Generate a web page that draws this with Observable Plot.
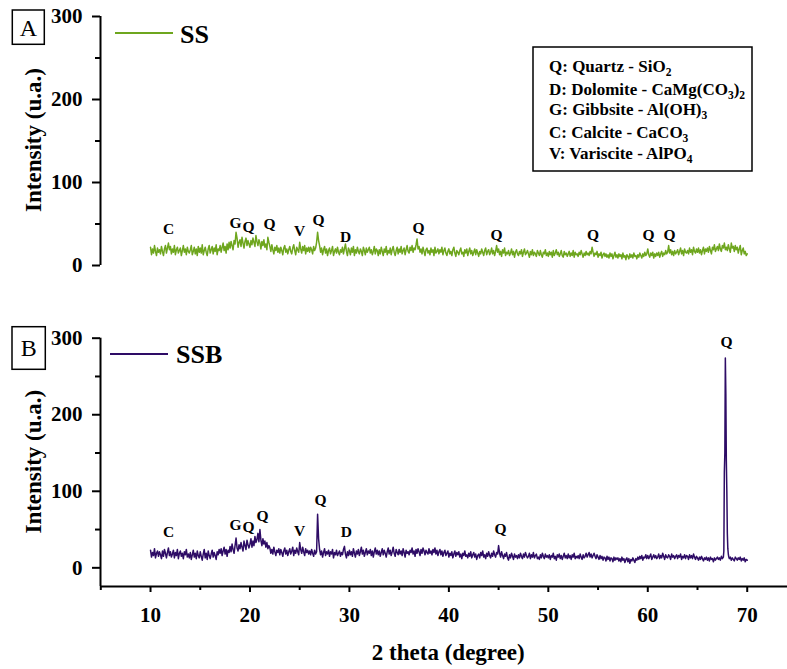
<!DOCTYPE html>
<html>
<head>
<meta charset="utf-8">
<script src="https://cdn.jsdelivr.net/npm/d3@7"></script>
<script src="https://cdn.jsdelivr.net/npm/@observablehq/plot@0.6"></script>
<style>
  html, body { margin: 0; padding: 0; background: #fff; }
  #chart { position: relative; width: 787px; height: 669px; overflow: hidden; }
  #chart svg { position: absolute; left: 0; }
</style>
</head>
<body>
<div id="chart"></div>
<script>
// XRD patterns, 2θ from 10° to 70° in 0.1° steps (one row per degree)
const thetaStart = 10;
const thetaStep = 0.1;

// Sample SS (panel A)
const ssIntensity = [
  22,13,20,15,24,17,12,21,16,19,
  14,23,17,12,20,24,15,21,27,19,
  23,14,20,16,24,13,19,22,15,18,
  21,12,18,24,16,20,13,22,17,15,
  19,24,13,17,22,14,20,12,23,16,
  21,15,25,13,18,22,16,12,20,24,
  15,19,23,14,21,17,25,13,20,18,
  24,16,22,27,18,23,15,26,19,28,
  21,29,24,19,30,26,40,33,22,28,
  31,23,34,27,21,29,33,24,30,26,
  22,30,25,33,28,23,36,29,24,31,
  27,20,29,24,31,22,26,19,34,28,
  23,17,25,19,14,22,18,24,16,21,
  15,22,18,13,21,24,16,20,14,19,
  23,17,14,21,25,18,13,22,19,16,
  28,20,15,23,18,24,14,21,17,22,
  16,22,19,14,23,18,21,28,40,30,
  24,16,21,13,19,23,15,20,12,18,
  21,14,18,23,12,17,20,15,22,16,
  13,19,16,22,14,20,26,17,12,21,
  18,13,21,16,23,12,19,15,22,17,
  14,20,17,12,22,18,13,21,16,19,
  22,15,19,13,17,23,14,20,18,12,
  19,14,22,17,12,20,16,23,13,18,
  15,21,13,19,23,16,12,18,22,14,
  20,16,23,14,18,21,13,19,24,17,
  15,22,18,24,16,21,19,25,32,20,
  23,16,20,14,22,17,12,19,21,15,
  18,13,21,16,19,12,22,15,17,20,
  14,19,16,22,13,18,21,15,12,17,
  20,14,17,12,19,22,15,11,18,16,
  13,18,21,14,16,11,19,15,20,12,
  17,21,14,18,12,16,20,13,19,15,
  11,17,14,20,16,12,18,21,13,17,
  19,13,16,21,14,18,12,17,24,16,
  20,13,17,11,19,15,21,12,16,14,
  18,12,15,20,13,17,10,16,19,14,
  12,17,14,19,11,16,20,13,15,18,
  14,10,17,13,19,12,16,14,11,18,
  15,12,18,13,10,16,14,19,12,15,
  11,17,13,16,10,18,12,15,19,13,
  16,11,14,18,12,10,17,13,15,11,
  14,17,11,15,12,18,10,16,13,14,
  11,16,13,18,14,10,15,12,17,13,
  15,12,17,14,22,16,11,15,13,17,
  10,14,12,16,9,13,15,11,14,10,
  13,9,15,11,14,8,12,16,10,13,
  9,14,11,13,8,15,10,12,7,13,
  11,8,14,10,13,9,15,11,12,8,
  13,10,15,12,9,14,11,16,12,14,
  20,13,10,15,12,16,9,14,11,15,
  12,16,10,14,17,11,15,13,18,14,
  16,24,15,19,13,17,12,18,14,16,
  19,13,17,21,14,18,12,20,16,15,
  18,14,21,16,19,13,22,17,15,20,
  16,21,15,19,13,18,22,14,20,17,
  21,16,23,18,14,22,19,25,17,20,
  23,18,26,20,17,24,21,27,19,22,
  18,25,20,16,27,21,23,17,24,19,
  22,15,20,24,13,18,21,14,17,12,
  14
];

// Sample SSB (panel B)
const ssbIntensity = [
  23,14,20,16,25,13,19,22,15,21,
  17,12,22,15,24,19,13,20,26,16,
  21,14,18,23,13,20,16,24,12,19,
  22,15,19,12,21,17,24,14,18,13,
  20,11,17,23,14,19,12,22,16,13,
  21,15,10,18,24,13,19,11,22,16,
  12,18,23,14,20,16,11,21,17,24,
  19,25,16,22,27,18,24,15,23,20,
  28,21,31,24,19,29,39,26,22,30,
  25,33,27,22,35,29,24,36,30,26,
  31,38,27,35,29,41,33,37,45,34,
  50,36,29,38,31,35,27,33,25,29,
  26,19,24,18,27,21,16,23,20,25,
  17,24,20,15,22,26,18,23,16,21,
  25,18,22,27,16,23,19,26,21,17,
  33,24,19,27,21,16,25,20,23,18,
  22,17,24,19,15,23,18,21,70,38,
  24,17,22,14,20,25,16,21,18,23,
  15,21,18,24,13,20,17,23,16,19,
  22,15,20,17,24,28,18,13,21,16,
  23,17,21,15,25,19,14,22,18,24,
  16,21,27,18,23,15,20,25,17,22,
  19,24,16,22,14,21,26,18,23,17,
  22,15,20,25,17,23,19,14,21,26,
  18,23,16,21,27,19,15,24,20,17,
  24,18,22,16,25,20,14,23,19,21,
  17,23,20,26,18,22,15,24,19,25,
  21,16,24,19,26,22,17,23,20,18,
  25,19,22,17,24,20,26,18,23,16,
  21,24,17,22,15,20,23,16,19,22,
  14,19,16,21,13,18,22,15,20,17,
  21,14,18,12,19,16,22,15,17,13,
  19,15,21,13,17,20,14,18,11,16,
  18,13,20,16,22,14,17,12,19,15,
  21,16,13,19,15,22,17,14,20,18,
  29,19,14,21,16,12,18,15,20,13,
  10,17,13,19,15,11,18,14,16,12,
  17,13,19,15,12,18,14,20,16,13,
  15,19,12,17,14,20,13,16,18,12,
  14,11,17,13,19,15,12,18,14,16,
  13,17,11,16,14,19,12,15,10,17,
  14,18,12,16,11,15,19,13,16,12,
  18,13,16,11,17,14,19,12,15,13,
  16,12,18,14,11,17,13,15,19,14,
  17,20,14,18,13,16,19,15,12,17,
  14,11,16,12,15,10,14,13,9,15,
  11,14,9,13,12,8,14,10,13,11,
  13,9,12,8,14,10,12,7,11,13,
  8,12,6,11,9,13,10,7,12,10,
  14,11,15,12,16,10,14,13,17,12,
  16,12,15,18,11,14,17,13,16,12,
  14,18,12,16,13,19,15,11,17,14,
  13,17,15,11,18,14,16,12,15,17,
  12,16,14,18,11,15,13,17,12,16,
  15,11,17,13,16,12,18,14,11,15,
  13,10,14,11,15,12,9,13,11,14,
  10,13,9,14,11,12,8,13,10,12,
  14,11,13,10,15,12,14,125,274,140,
  45,18,12,14,10,13,11,9,14,12,
  10,13,11,14,9,12,10,13,8,11,
  10
];
// Finer scan points across the strong quartz reflection near 68°
const ssbPeakTheta = [67.65, 67.75, 67.85, 67.95, 68.05, 68.15];
const ssbPeakIntensity = [22, 150, 228, 100, 25, 14];

// Phase labels over the reflections
const ssPeakLabel = ["C", "G", "Q", "Q", "V", "Q", "D", "Q", "Q", "Q", "Q", "Q"];
const ssPeakTheta = [11.81, 18.55, 19.86, 21.97, 24.98, 26.89, 29.61, 36.95, 44.79, 54.5, 60.07, 62.18];
const ssPeakLabelY = [44.4, 51.6, 46.8, 50.4, 42, 55.2, 34.8, 45.6, 37, 37, 37, 37];

const ssbPeakLabel = ["C", "G", "Q", "Q", "V", "Q", "D", "Q", "Q"];
const ssbPeakLabelTheta = [11.81, 18.55, 19.86, 21.26, 24.98, 27.09, 29.7, 45.19, 67.92];
const ssbPeakLabelY = [47.3, 56.5, 53.9, 68.2, 48.7, 89, 47.3, 51.3, 295];

// Axis ticks
const xMajorTicks = [10, 20, 30, 40, 50, 60, 70];
const xMinorTicks = [5, 15, 25, 35, 45, 55, 65];
const yMajorTicks = [0, 100, 200, 300];
const yMinorTicks = [50, 150, 250];

// Phase key
const phaseKey = [
  [["Q: Quartz - SiO"], ["2", true]],
  [["D: Dolomite - CaMg(CO"], ["3", true], [")"], ["2", true]],
  [["G: Gibbsite - Al(OH)"], ["3", true]],
  [["C: Calcite - CaCO"], ["3", true]],
  [["V: Variscite - AlPO"], ["4", true]]
];

const ssColor = "#6ea61e";
const ssbColor = "#2e0c66";
const serif = "'Liberation Serif', 'Times New Roman', serif";

const xDomain = [4.97, 74.05];

const ssRows = ssIntensity.map((v, i) => ({theta: +(thetaStart + i * thetaStep).toFixed(2), intensity: v}));
const ssbRows = ssbIntensity.map((v, i) => ({theta: +(thetaStart + i * thetaStep).toFixed(2), intensity: v}))
  .concat(ssbPeakTheta.map((t, i) => ({theta: t, intensity: ssbPeakIntensity[i]})))
  .sort((a, b) => a.theta - b.theta);

const ssLabels = ssPeakLabel.map((t, i) => ({label: t, theta: ssPeakTheta[i], y: ssPeakLabelY[i]}));
const ssbLabels = ssbPeakLabel.map((t, i) => ({label: t, theta: ssbPeakLabelTheta[i], y: ssbPeakLabelY[i]}));

const baseStyle = {fontFamily: serif, fontWeight: "bold", fontSize: "21px", color: "#000", background: "transparent"};

function yAxes() {
  return [
    Plot.axisY({ticks: yMajorTicks, tickSize: 8, tickPadding: 10, fontSize: 21, fontWeight: "bold", label: null, strokeWidth: 2}),
    Plot.axisY({ticks: yMinorTicks, tickSize: 5, tickFormat: () => "", label: null, strokeWidth: 2})
  ];
}

// Panel A
const yDomainA = [0, 300];
const panelA = Plot.plot({
  width: 787, height: 280,
  marginLeft: 100, marginRight: 0, marginTop: 16, marginBottom: 15,
  x: {domain: xDomain, axis: null},
  y: {domain: yDomainA},
  style: baseStyle,
  marks: [
    Plot.ruleX([xDomain[0]], {strokeWidth: 2}),
    ...yAxes(),
    Plot.line(ssRows, {x: "theta", y: "intensity", stroke: ssColor, strokeWidth: 1.5}),
    Plot.text(ssLabels, {x: "theta", y: "y", text: "label", fontSize: 15.5, fontWeight: "bold", lineAnchor: "middle", fill: "#000"})
  ]
});

// Panel B
const yDomainB = [-24.4, 300];
const panelB = Plot.plot({
  width: 787, height: 369,
  marginLeft: 100, marginRight: 0, marginTop: 37.7, marginBottom: 83,
  x: {domain: xDomain},
  y: {domain: yDomainB},
  style: baseStyle,
  marks: [
    Plot.ruleX([xDomain[0]], {strokeWidth: 2}),
    Plot.ruleY([yDomainB[0]], {strokeWidth: 2}),
    ...yAxes(),
    Plot.axisX({ticks: xMajorTicks, tickSize: 6, tickPadding: 15, fontSize: 21, fontWeight: "bold", label: null, strokeWidth: 2}),
    Plot.axisX({ticks: xMinorTicks, tickSize: 4, tickFormat: () => "", label: null, strokeWidth: 2}),
    Plot.line(ssbRows, {x: "theta", y: "intensity", stroke: ssbColor, strokeWidth: 1.5}),
    Plot.text(ssbLabels, {x: "theta", y: "y", text: "label", fontSize: 15.5, fontWeight: "bold", lineAnchor: "middle", fill: "#000"})
  ]
});

const chart = document.getElementById("chart");
panelA.style.top = "0px";
panelB.style.top = "300px";
chart.appendChild(panelA);
chart.appendChild(panelB);

// Panel decorations: letter box, series key, axis titles
function decorate(svg, o) {
  const g = d3.select(svg).append("g").attr("font-family", serif).attr("fill", "#000");
  g.append("rect").attr("x", o.box[0]).attr("y", o.box[1]).attr("width", o.box[2]).attr("height", o.box[3])
    .attr("fill", "none").attr("stroke", "#000").attr("stroke-width", 1.5);
  g.append("text").attr("x", o.box[0] + o.box[2] / 2).attr("y", o.box[1] + o.box[3] / 2)
    .attr("dy", "0.35em").attr("text-anchor", "middle").attr("font-size", 24).attr("font-weight", "normal")
    .text(o.letter);
  g.append("line").attr("x1", o.key[0]).attr("x2", o.key[1]).attr("y1", o.key[2]).attr("y2", o.key[2])
    .attr("stroke", o.color).attr("stroke-width", 2);
  g.append("text").attr("x", o.keyText[0]).attr("y", o.keyText[1]).attr("text-anchor", "start")
    .attr("font-size", 26).attr("font-weight", "bold").text(o.name);
  g.append("text").attr("transform", `translate(${o.yTitle[0]},${o.yTitle[1]}) rotate(-90)`)
    .attr("text-anchor", "middle").attr("dy", "0.35em").attr("font-size", 23).attr("font-weight", "bold")
    .text("Intensity (u.a.)");
  return g;
}

decorate(panelA, {box: [12.3, 10, 32, 34.3], letter: "A", key: [115, 173, 33], keyText: [180, 43], color: ssColor, name: "SS", yTitle: [33, 140]});
const gB = decorate(panelB, {box: [12, 26.7, 33.3, 42.6], letter: "B", key: [110, 168, 54], keyText: [176, 63.3], color: ssbColor, name: "SSB", yTitle: [33, 161.7]});
gB.append("text").attr("x", 448.3).attr("y", 360).attr("text-anchor", "middle")
  .attr("font-size", 23).attr("font-weight", "bold").text("2 theta (degree)");

// Phase key box in panel A
const key = d3.select(panelA).append("g").attr("font-family", serif).attr("font-weight", "bold")
  .attr("fill", "#000").attr("text-anchor", "start");
key.append("rect").attr("x", 533).attr("y", 47).attr("width", 219).attr("height", 124)
  .attr("fill", "none").attr("stroke", "#000").attr("stroke-width", 1.5);
const baselines = [72, 94.5, 115, 138, 159];
phaseKey.forEach((parts, i) => {
  const t = key.append("text").attr("x", 549).attr("y", baselines[i]).attr("font-size", 17);
  let shifted = false;
  parts.forEach(([s, sub]) => {
    const span = t.append("tspan").text(s);
    if (sub && !shifted) { span.attr("dy", 4).attr("font-size", 11.5); shifted = true; }
    else if (sub) { span.attr("font-size", 11.5); }
    else if (shifted) { span.attr("dy", -4); shifted = false; }
  });
});
</script>
</body>
</html>
